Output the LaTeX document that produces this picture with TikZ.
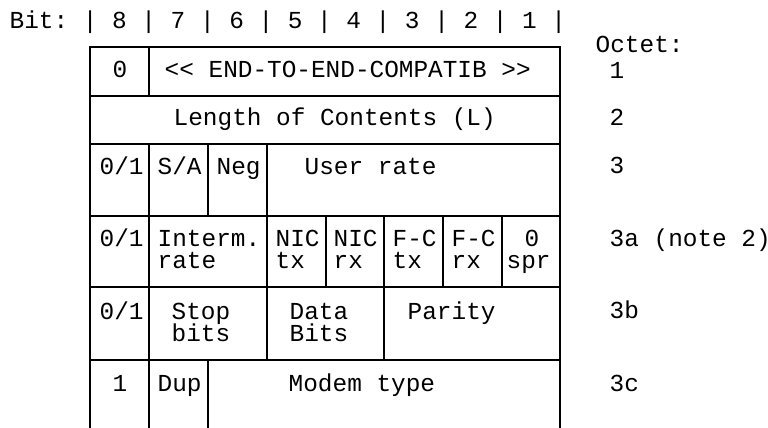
\documentclass[tikz,border=0pt]{standalone}
\usepackage{fontspec}
\setmonofont{Liberation Mono}
\newcommand{\octfont}{\ttfamily\fontsize{12.2}{14}\selectfont}

\begin{document}
\begin{tikzpicture}[x=0.5pt,y={(0,-0.5pt)},line width=0.7pt]
\tikzset{cellrule/.style={line width=0.7pt,line cap=rect},
  celltext/.style={anchor=base west,inner sep=0pt,font=\octfont}}
\fill[white] (0,0) rectangle (768,428);
\useasboundingbox (0,0) rectangle (768,428);
% ---------- bit ruler and octet column ----------
\node[celltext] (bitrow) at (9,28) {Bit: | 8 | 7 | 6 | 5 | 4 | 3 | 2 | 1 |};
\node[celltext] (octet) at (595,53) {Octet:};
\node[celltext] (oct1)  at (609,78)  {1};
\node[celltext] (oct2)  at (609,126) {2};
\node[celltext] (oct3)  at (609,174) {3};
\node[celltext] (oct3a) at (609,247) {3a (note 2)};
\node[celltext] (oct3b) at (609,319) {3b};
\node[celltext] (oct3c) at (609,392) {3c};
% ---------- outer frame and row rules ----------
\draw[cellrule] (90,428) -- (90,47) -- (560,47) -- (560,428);
\draw[cellrule] (90,96)  -- (560,96);
\draw[cellrule] (90,144) -- (560,144);
\draw[cellrule] (90,216) -- (560,216);
\draw[cellrule] (90,287) -- (560,287);
\draw[cellrule] (90,360) -- (560,360);
% ---------- column dividers, row by row ----------
\draw[cellrule] (149,47) -- (149,96);                        % octet 1
\draw[cellrule] (149,144) -- (149,428);                      % bit 8 / bit 7, octets 3..3c
\draw[cellrule] (208,144) -- (208,216);                      % octet 3
\draw[cellrule] (267,144) -- (267,216);
\draw[cellrule] (267,216) -- (267,360);                      % octets 3a, 3b
\draw[cellrule] (326,216) -- (326,287);                      % octet 3a
\draw[cellrule] (384,216) -- (384,360);                      % octets 3a, 3b
\draw[cellrule] (443,216) -- (443,287);
\draw[cellrule] (502,216) -- (502,287);
\draw[cellrule] (208,360) -- (208,428);                      % octet 3c
% ---------- octet 1 and 2 ----------
\node[celltext] (ext1) at (112,77)  {0};
\node[celltext] (name) at (164,77)  {<< END-TO-END-COMPATIB >>};
\node[celltext] (len)  at (173,126) {Length of Contents (L)};
% ---------- octet 3 ----------
\node[celltext] (ext3) at (99,175)  {0/1};
\node[celltext] (syna) at (157,175) {S/A};
\node[celltext] (neg)  at (216,175) {Neg};
\node[celltext] (urate) at (304,175) {User rate};
% ---------- octet 3a ----------
\node[celltext] (ext3a) at (99,247)  {0/1};
\node[celltext] (irt1)  at (157,247) {Interm.};
\node[celltext] (irt2)  at (157,269) {rate};
\node[celltext] (ntx1)  at (275,247) {NIC};
\node[celltext] (ntx2)  at (275,269) {tx};
\node[celltext] (nrx1)  at (333,247) {NIC};
\node[celltext] (nrx2)  at (333,269) {rx};
\node[celltext] (ftx1)  at (392,247) {F-C};
\node[celltext] (ftx2)  at (392,269) {tx};
\node[celltext] (frx1)  at (451,247) {F-C};
\node[celltext] (frx2)  at (451,269) {rx};
\node[celltext] (spr1)  at (524,247) {0};
\node[celltext] (spr2)  at (506,269) {spr};
% ---------- octet 3b ----------
\node[celltext] (ext3b) at (99,320)  {0/1};
\node[celltext] (stop1) at (171,320) {Stop};
\node[celltext] (stop2) at (171,342) {bits};
\node[celltext] (data1) at (289,320) {Data};
\node[celltext] (data2) at (289,342) {Bits};
\node[celltext] (par)   at (407,320) {Parity};
% ---------- octet 3c ----------
\node[celltext] (ext3c) at (112,392) {1};
\node[celltext] (dup)   at (157,392) {Dup};
\node[celltext] (modem) at (288,392) {Modem type};
\end{tikzpicture}
\end{document}
